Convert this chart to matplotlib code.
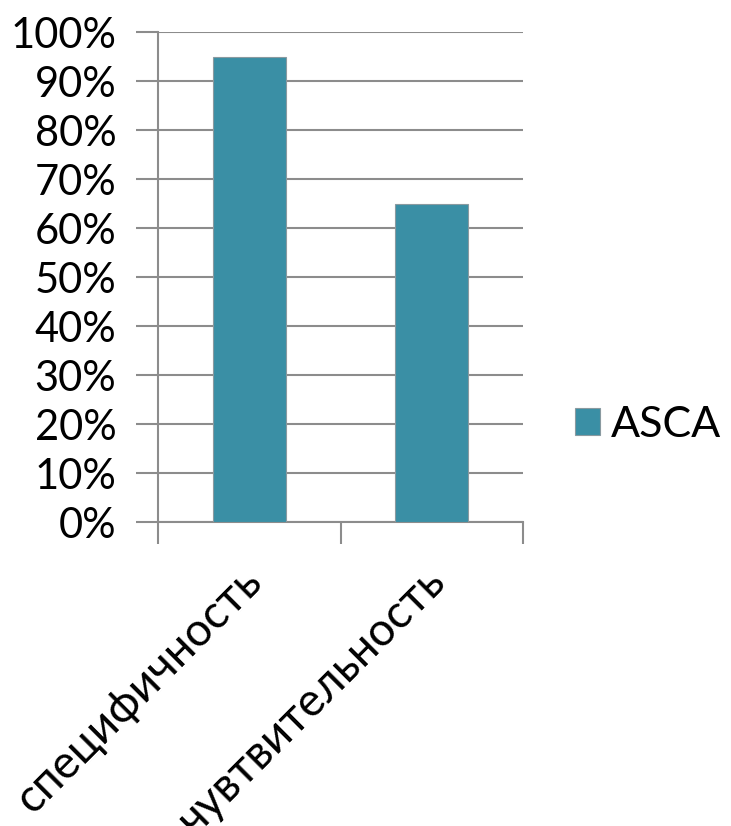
import matplotlib
matplotlib.use("Agg")
import matplotlib.pyplot as plt
from matplotlib.patches import Patch
from matplotlib.transforms import ScaledTranslation

categories = ["специфичность", "чувтвительность"]
values = [0.95, 0.65]
series_name = "ASCA"
yticks = [0, 0.1, 0.2, 0.3, 0.4, 0.5, 0.6, 0.7, 0.8, 0.9, 1.0]
ytick_labels = ["0%", "10%", "20%", "30%", "40%", "50%", "60%", "70%", "80%", "90%", "100%"]

plt.rcParams['font.family'] = ['Lato', 'DejaVu Sans']
bar_color = "#3A8FA5"
grid_color = "#8C8C8C"

fig = plt.figure(figsize=(7.31, 8.26), dpi=100)
ax = fig.add_axes([158/731, 1-522/826, (523-158)/731, (522-32)/826])

x = list(range(len(categories)))
ax.bar(x, values, width=0.4, color=bar_color, edgecolor="#8A9AA0", linewidth=0.8, zorder=3)
ax.set_xlim(-0.5, 1.5)
ax.set_ylim(0, 1.0)
ax.set_yticks(yticks)
ax.set_yticklabels(ytick_labels, fontsize=30)
ax.yaxis.grid(True, color=grid_color, linewidth=1.5, zorder=0)
ax.set_axisbelow(True)
ax.tick_params(axis='y', length=16, width=1.5, color=grid_color, pad=14)

ax.set_xticks([-0.5, 0.5, 1.5], minor=False)
ax.set_xticklabels([])
ax.tick_params(axis='x', which='major', length=16, width=1.5, color=grid_color, direction='out')
ax.set_xticks(x, minor=True)
ax.set_xticklabels(categories, minor=True, rotation=45, ha='right', rotation_mode='anchor', fontsize=33)
ax.tick_params(axis='x', which='minor', length=0, pad=27)
shift = ScaledTranslation(-9/100, 0, fig.dpi_scale_trans)
for lbl in ax.get_xticklabels(minor=True):
    lbl.set_transform(lbl.get_transform() + shift)

for s in ['top', 'right']:
    ax.spines[s].set_visible(False)
for s in ['left', 'bottom']:
    ax.spines[s].set_color(grid_color)
    ax.spines[s].set_linewidth(1.5)

handle = Patch(facecolor=bar_color, edgecolor="#8A9AA0", linewidth=0.8)
fig.legend([handle], [series_name], loc='center left', bbox_to_anchor=(566/731, 1-425/826),
           frameon=False, fontsize=31, handlelength=0.6, handleheight=0.6, handletextpad=0.25,
           borderpad=0.2, borderaxespad=0.0)

fig.savefig("out.png", dpi=100)
